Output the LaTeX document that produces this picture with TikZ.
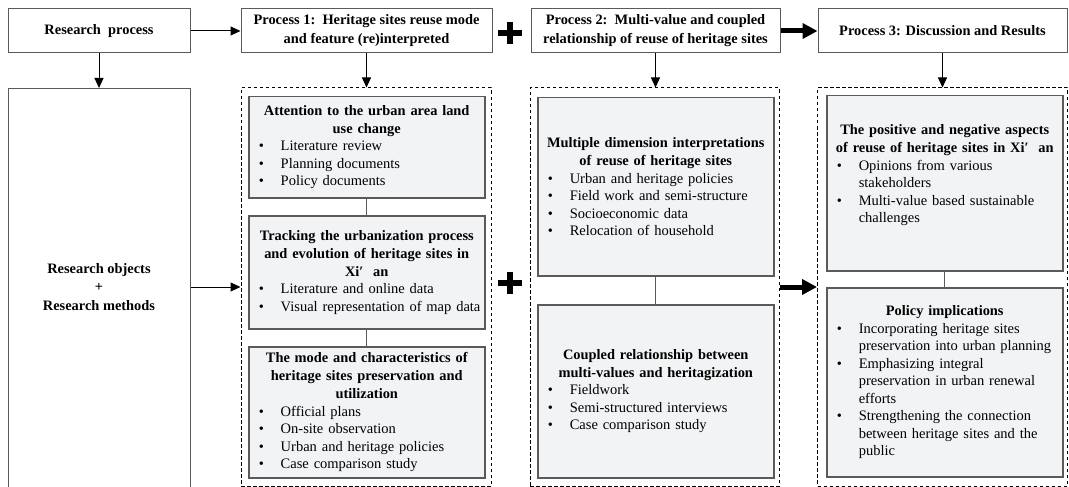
\documentclass[tikz,border=0pt]{standalone}
\usepackage{fontspec}
\setmainfont{Liberation Serif}
\usepackage{tikz}
\usetikzlibrary{arrows.meta}
\definecolor{boxgray}{RGB}{242,243,244}
\definecolor{edgegray}{RGB}{90,90,90}
\newcommand{\boxtitle}[1]{{\centering\bfseries\fontsize{14.4}{18}\selectfont #1\par}}
\newcommand{\bitem}[1]{\par\noindent\raggedright\let\\\newline\hangindent=28pt\hangafter=1\hspace*{6pt}\makebox[22pt][l]{\textbullet}#1\par}
\newcommand{\xian}{Xi′\ \ an}

\begin{document}
\begin{tikzpicture}[x=1pt,y=-1pt,
    topbox/.style={draw=edgegray,line width=1pt,fill=white,align=center,minimum height=44pt,inner sep=2pt,font=\bfseries\fontsize{14.4}{19}\selectfont},
    groupbox/.style={draw,dash pattern=on 3.5pt off 2.5pt,line width=1pt,minimum height=398pt},
    infobox/.style={draw=edgegray,line width=1.5pt,fill=boxgray,anchor=north west,minimum width=236pt,text width=228pt,inner xsep=4pt,inner ysep=2pt,font=\fontsize{14.5}{17.5}\selectfont},
    thinarrow/.style={line width=1pt,-{Triangle[length=10pt,width=9pt]}},
    bigarrow/.style={line width=5pt,-{Triangle[length=15pt,width=15pt]}},
    link/.style={draw=edgegray,line width=1pt},
    plusmark/.style={line width=6pt}]
    \useasboundingbox (0,0) rectangle (1069,487);
    \clip (0,0) rectangle (1069,487);

    % top row
    \node[topbox,minimum width=182pt] (rp) at (99,31) {Research\ \ process};
    \node[topbox,minimum width=251pt] (p1) at (366.5,31) {Process 1:\ \ Heritage sites reuse mode\\and feature (re)interpreted};
    \node[topbox,minimum width=249pt] (p2) at (655.5,31) {Process 2:\ \ Multi-value and coupled\\relationship of reuse of heritage sites};
    \node[topbox,minimum width=249pt] (p3) at (942.5,31) {Process 3: Discussion and Results};

    % left column and dashed groups
    \node[draw=edgegray,line width=1pt,minimum width=182pt,minimum height=412pt,anchor=north] (lb) at (99,88) {};
    \node[align=center,font=\bfseries\fontsize{14.4}{18.5}\selectfont] (lbtext) at (99,287) {Research objects\\+\\Research methods};
    \node[groupbox,minimum width=250pt] (d1) at (366,287) {};
    \node[groupbox,minimum width=249pt] (d2) at (654.5,287) {};
    \node[groupbox,minimum width=250pt] (d3) at (942.5,287) {};

    % process 1
    \node[infobox,minimum height=101pt] (att) at (248,96) {\boxtitle{Attention to the urban area land\\use change}%
        \bitem{Literature review}\bitem{Planning documents}\bitem{Policy documents}};
    \node[infobox,minimum height=113pt] (track) at (248,215) {\boxtitle{Tracking the urbanization process\\and evolution of heritage sites in\\\xian}%
        \bitem{Literature and online data}\bitem{Visual representation of map data}};
    \node[infobox,minimum height=131pt] (mode) at (248,346) {\boxtitle{The mode and characteristics of\\heritage sites preservation and\\utilization}%
        \bitem{Official plans}\bitem{On-site observation}\bitem{Urban and heritage policies}\bitem{Case comparison study}};

    % process 2
    \node[infobox,minimum width=235pt,minimum height=178pt] (multi) at (537,97) {\boxtitle{Multiple dimension interpretations\\of reuse of heritage sites}%
        \bitem{Urban and heritage policies}\bitem{Field work and semi-structure}\bitem{Socioeconomic data}\bitem{Relocation of household}};
    \node[infobox,minimum width=235pt,minimum height=173pt] (coupled) at (537,304) {\boxtitle{Coupled relationship between\\multi-values and heritagization}%
        \bitem{Fieldwork}\bitem{Semi-structured interviews}\bitem{Case comparison study}};

    % process 3
    \node[infobox,minimum width=235pt,minimum height=175pt] (aspects) at (826,95) {\boxtitle{The positive and negative aspects\\of reuse of heritage sites in \xian}%
        \bitem{Opinions from various\\stakeholders}\bitem{Multi-value based sustainable\\challenges}\kern16pt};
    \node[infobox,minimum width=235pt,minimum height=189pt] (policy) at (826,287) {\boxtitle{Policy implications}%
        \bitem{Incorporating heritage sites\\preservation into urban planning}\bitem{Emphasizing integral\\preservation in urban renewal\\efforts}\bitem{Strengthening the connection\\between heritage sites and the\\public}};

    % connectors
    \draw[thinarrow] (rp) -- (p1);
    \draw[thinarrow] (rp) -- (lb);
    \draw[thinarrow] (p1.south) -- (p1.south |- d1.north);
    \draw[thinarrow] (p2.south) -- (p2.south |- d2.north);
    \draw[thinarrow] (p3.south) -- (p3.south |- d3.north);
    \draw[thinarrow] (lb.east |- d1.west) -- (d1.west);
    \draw[bigarrow] (p2) -- (p3);
    \draw[bigarrow] (d2) -- (d3);
    \draw[link] (att) -- (track);
    \draw[link] (track) -- (mode);
    \draw[link] (multi) -- (coupled);
    \draw[link] (aspects) -- (policy);
    \foreach \y in {33,283}
        \draw[plusmark] (498,\y) -- (522,\y) (510,\y-11) -- (510,\y+11);
\end{tikzpicture}
\end{document}
